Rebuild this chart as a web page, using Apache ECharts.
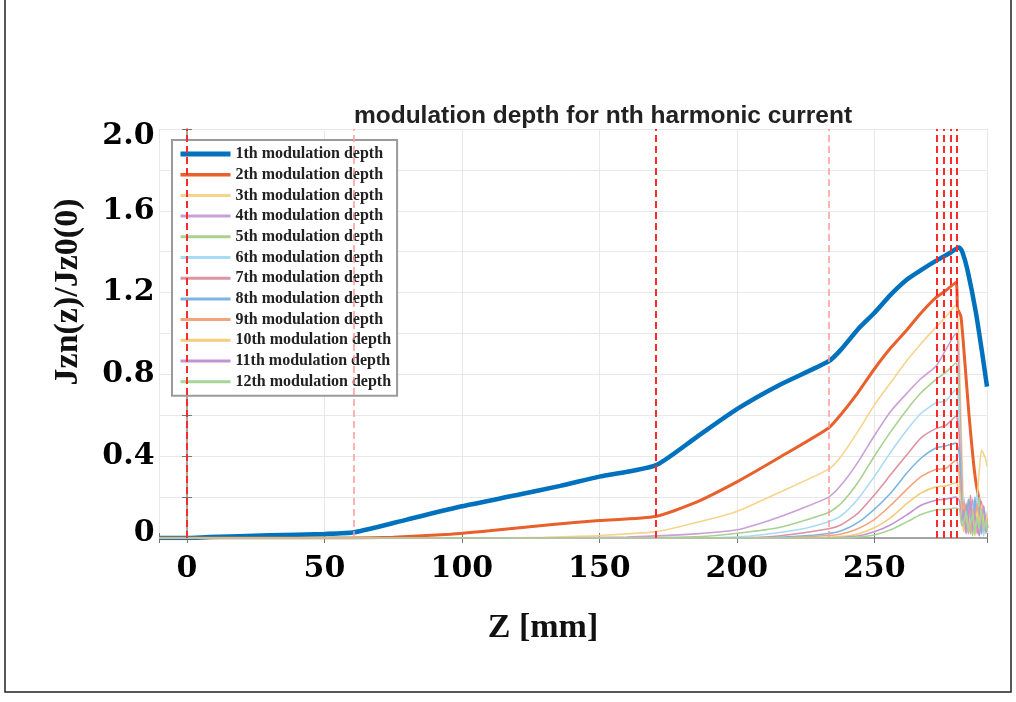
<!DOCTYPE html>
<html>
<head>
<meta charset="utf-8">
<script src="https://cdn.jsdelivr.net/npm/echarts@6/dist/echarts.min.js"></script>
<style>
  html, body { margin: 0; padding: 0; background: #fff; }
  #chart { width: 1016px; height: 702px; }
</style>
</head>
<body>
<div id="chart"></div>
<script>
// legend names
var names = ['1th modulation depth', '2th modulation depth', '3th modulation depth', '4th modulation depth',
  '5th modulation depth', '6th modulation depth', '7th modulation depth', '8th modulation depth',
  '9th modulation depth', '10th modulation depth', '11th modulation depth', '12th modulation depth']

// z positions of the red dashed markers [mm]
var dashStrong = [0, 170.4, 272.8, 275.3, 277.9, 280]
var dashFaint = [60.8, 233.4]

// harmonic 1 and 2 (whole curves)
var z1 = [-10, 0, 8, 30, 50, 60.8, 80, 100, 120, 135.8, 150, 170.4, 185, 200, 215, 233.4, 237.8, 244, 250, 256, 262, 267, 272.4, 277, 280.9, 282, 283.9, 287, 289.4, 291]
var d1 = [0, 0, 0.005, 0.013, 0.02, 0.028, 0.09, 0.155, 0.21, 0.255, 0.3, 0.355, 0.49, 0.63, 0.745, 0.864, 0.92, 1.02, 1.10, 1.19, 1.265, 1.31, 1.355, 1.39, 1.42, 1.40, 1.31, 1.10, 0.89, 0.74]
var z2 = [-10, 60, 75, 95.8, 110, 132, 150, 170.4, 184.4, 200.2, 215, 233.4, 237.8, 244, 249.9, 256, 262, 267, 272.4, 276, 279.7, 280.3, 281.5, 283, 284.5, 286, 287, 288.8, 289.6, 290.3, 291]
var d2 = [0, 0, 0.004, 0.018, 0.035, 0.065, 0.085, 0.105, 0.17, 0.276, 0.39, 0.538, 0.603, 0.71, 0.824, 0.93, 1.02, 1.10, 1.175, 1.21, 1.25, 1.12, 1.085, 0.85, 0.595, 0.38, 0.27, 0.137, 0.08, 0.12, 0.05]

// harmonics 3..12: rising part, then the noisy tail on zTail
var zTail = [282.6, 283.4, 284.2, 285, 285.8, 286.6, 287.4, 288.2, 289, 289.8, 290.6, 291]

var z3 = [-10, 110, 130, 150, 170.4, 185, 200, 215, 233.4, 238, 244, 250, 256, 262, 267, 272.4, 276, 279.7, 280.6, 281.5, 282.2]
var d3 = [0, 0, 0.004, 0.012, 0.031, 0.075, 0.13, 0.22, 0.337, 0.40, 0.52, 0.65, 0.76, 0.87, 0.95, 1.03, 1.08, 1.14, 1.02, 0.6, 0.25]
var t3 = [0.1, 0.14, 0.05, 0.16, 0.07, 0.12, 0.2, 0.33, 0.43, 0.41, 0.38, 0.35]

var z4 = [-10, 130, 160, 185, 200, 215, 233.4, 238, 244, 250, 256, 262, 267, 272.4, 276, 279.7, 280.5, 281.3, 282]
var d4 = [0, 0, 0.005, 0.02, 0.04, 0.1, 0.2, 0.26, 0.37, 0.5, 0.62, 0.71, 0.78, 0.84, 0.92, 1.0, 0.93, 0.55, 0.22]
var t4 = [0.06, 0.15, 0.02, 0.1, 0.19, 0.05, 0.12, 0.03, 0.09, 0.16, 0.06, 0.1]

var z5 = [-10, 160, 190, 215, 233.4, 238, 244, 250, 256, 262, 267, 272.4, 276, 279.7, 280.5, 281.3, 282]
var d5 = [0, 0, 0.01, 0.05, 0.125, 0.17, 0.27, 0.4, 0.52, 0.63, 0.71, 0.775, 0.81, 0.856, 0.8, 0.42, 0.15]
var t5 = [0.12, 0.03, 0.18, 0.08, 0.01, 0.14, 0.07, 0.2, 0.04, 0.11, 0.02, 0.08]

var z6 = [-10, 180, 205, 222, 233.4, 238, 244, 250, 256, 262, 267, 272.4, 276, 279.7, 280.6, 281.4, 282.1]
var d6 = [0, 0, 0.01, 0.04, 0.08, 0.11, 0.19, 0.3, 0.42, 0.53, 0.61, 0.66, 0.67, 0.725, 0.68, 0.33, 0.12]
var t6 = [0.2, 0.08, 0.13, 0.02, 0.16, 0.09, 0.22, 0.05, 0.1, 0.01, 0.13, 0.05]

var z7 = [-10, 195, 215, 233.4, 238, 244, 250, 256, 262, 267, 272.4, 276, 279.7, 280.8, 281.7]
var d7 = [0, 0, 0.01, 0.045, 0.065, 0.12, 0.21, 0.31, 0.41, 0.49, 0.535, 0.55, 0.595, 0.52, 0.2]
var t7 = [0.05, 0.17, 0.1, 0.21, 0.06, 0.15, 0.02, 0.12, 0.18, 0.07, 0.04, 0.1]

var z8 = [-10, 205, 222, 233.4, 238, 244, 250, 256, 262, 267, 272.4, 276, 279.7, 281, 281.8]
var d8 = [0, 0, 0.008, 0.022, 0.035, 0.075, 0.14, 0.22, 0.32, 0.39, 0.44, 0.45, 0.464, 0.4, 0.15]
var t8 = [0.1, 0.04, 0.19, 0.12, 0.03, 0.2, 0.09, 0.15, 0.02, 0.13, 0.08, 0.03]

var z9 = [-10, 215, 233.4, 238, 244, 250, 256, 262, 267, 272.4, 276, 279.7, 281, 281.8]
var d9 = [0, 0, 0.012, 0.02, 0.045, 0.09, 0.16, 0.24, 0.3, 0.335, 0.34, 0.38, 0.3, 0.12]
var t9 = [0.18, 0.07, 0.11, 0.02, 0.14, 0.05, 0.17, 0.08, 0.12, 0.04, 0.1, 0.07]

var z10 = [-10, 225, 238, 244, 250, 256, 262, 267, 272.4, 276, 279.7, 281, 281.8]
var d10 = [0, 0, 0.008, 0.02, 0.05, 0.1, 0.17, 0.22, 0.25, 0.255, 0.27, 0.23, 0.1]
var t10 = [0.03, 0.12, 0.06, 0.15, 0.1, 0.01, 0.13, 0.04, 0.16, 0.09, 0.05, 0.12]

var z11 = [-10, 232, 244, 250, 256, 262, 267, 272.4, 276, 279.7, 281, 281.8]
var d11 = [0, 0, 0.01, 0.03, 0.065, 0.115, 0.16, 0.185, 0.19, 0.2, 0.18, 0.08]
var t11 = [0.14, 0.02, 0.09, 0.17, 0.04, 0.11, 0.06, 0.01, 0.1, 0.15, 0.03, 0.06]

var z12 = [-10, 238, 244, 250, 256, 262, 267, 272.4, 276, 279.7, 281, 281.8]
var d12 = [0, 0, 0.005, 0.015, 0.04, 0.08, 0.115, 0.137, 0.14, 0.147, 0.14, 0.06]
var t12 = [0.08, 0.13, 0.03, 0.07, 0.12, 0.02, 0.1, 0.05, 0.14, 0.03, 0.09, 0.04]

var colors = ['#0072BD', '#E8602C', '#F7D48C', '#C9A0D6', '#A9D190', '#A8DCF4', '#DD93A2',
  '#7DB5E2', '#F3A47F', '#F5CD7C', '#C493D4', '#A6D597']
var widths = [4.5, 3, 1.6, 1.6, 1.6, 1.6, 1.6, 1.6, 1.6, 1.6, 1.6, 1.6]
var legendWidths = [5, 3.5, 3, 3, 3, 3, 3, 3, 3, 3, 3, 3]

var serif = "'Liberation Serif', 'Times New Roman', serif"
var tickFont = "'DejaVu Serif', serif"

var zs = [z1, z2, z3.concat(zTail), z4.concat(zTail), z5.concat(zTail), z6.concat(zTail), z7.concat(zTail),
  z8.concat(zTail), z9.concat(zTail), z10.concat(zTail), z11.concat(zTail), z12.concat(zTail)]
var ds = [d1, d2, d3.concat(t3), d4.concat(t4), d5.concat(t5), d6.concat(t6), d7.concat(t7),
  d8.concat(t8), d9.concat(t9), d10.concat(t10), d11.concat(t11), d12.concat(t12)]

var series = []
names.forEach(function (n, i) {
  var pts = zs[i].map(function (z, j) { return [z, ds[i][j]] })
  series.push({
    name: n,
    type: 'line',
    data: pts,
    symbol: 'none',
    smooth: 0.2,
    lineStyle: { width: widths[i], color: colors[i] },
    itemStyle: { color: colors[i] }
  })
})

// red dashed markers
var marks = []
dashStrong.forEach(function (v) {
  marks.push({ xAxis: v, lineStyle: { color: '#ff2a2a', width: 2, type: [7, 4] } })
})
dashFaint.forEach(function (v) {
  marks.push({ xAxis: v, lineStyle: { color: '#ff9a9a', width: 1.5, type: [7, 4] } })
})
series.push({
  name: 'markers',
  type: 'line',
  data: [],
  markLine: { silent: true, symbol: ['none', 'none'], label: { show: false }, data: marks }
})

var tickText = { fontFamily: tickFont, fontSize: 30, fontWeight: 'bold', color: '#000' }

var chart = echarts.init(document.getElementById('chart'))
chart.setOption({
  animation: false,
  backgroundColor: '#fff',
  title: {
    text: 'modulation depth for nth harmonic current',
    left: 598,
    top: 99,
    textAlign: 'center',
    textStyle: { fontFamily: "'Liberation Sans', Arial, sans-serif", fontSize: 24.5, fontWeight: 'bold', color: '#222' }
  },
  grid: { left: 159.5, right: 29, top: 129, bottom: 164 },
  legend: {
    data: names.map(function (n, i) { return { name: n, lineStyle: { width: legendWidths[i] } } }),
    orient: 'vertical',
    left: 172,
    top: 140,
    padding: [6, 6, 6, 6],
    itemWidth: 50,
    itemHeight: 14,
    itemGap: 4.7,
    backgroundColor: '#fff',
    borderColor: '#9a9a9a',
    borderWidth: 2,
    itemStyle: { opacity: 0 },
    textStyle: { fontFamily: serif, fontSize: 16, fontWeight: 'bold', color: '#222' }
  },
  xAxis: [{
    type: 'value',
    min: -10,
    max: 291,
    position: 'bottom',
    axisLine: { show: true, lineStyle: { color: '#a0a0a0', width: 1.5 } },
    axisTick: { show: true, inside: true, length: 5, lineStyle: { color: '#777' } },
    splitLine: { show: true, lineStyle: { color: '#e8e8e8', width: 1 } },
    axisLabel: Object.assign({
      margin: 16,
      formatter: function (v) { return (Math.abs(v % 50) < 1e-6) ? String(Math.round(v)) : '' }
    }, tickText)
  }, {
    type: 'value',
    min: -10,
    max: 291,
    position: 'top',
    axisLine: { show: true, lineStyle: { color: '#a0a0a0', width: 1.5 } },
    axisTick: { show: true, inside: true, length: 5, lineStyle: { color: '#777' } },
    splitLine: { show: false },
    axisLabel: { show: false }
  }],
  yAxis: [{
    type: 'value',
    min: 0,
    max: 2,
    interval: 0.2,
    position: 'left',
    axisLine: { show: true, lineStyle: { color: '#a0a0a0', width: 1.5 } },
    axisTick: { show: true, inside: true, length: 5, lineStyle: { color: '#777' } },
    splitLine: { show: true, lineStyle: { color: '#e8e8e8', width: 1 } },
    axisLabel: Object.assign({
      margin: 5,
      formatter: function (v) {
        var k = Math.round(v * 10)
        if (k % 4 !== 0) return ''
        if (k === 0) return '{lo|0}'
        if (k === 20) return '{hi|2.0}'
        return (k / 10).toFixed(1)
      },
      rich: {
        lo: Object.assign({ padding: [0, 0, 10, 0] }, tickText),
        hi: Object.assign({ padding: [14, 0, 0, 0] }, tickText)
      }
    }, tickText)
  }, {
    type: 'value',
    min: 0,
    max: 2,
    interval: 0.2,
    position: 'right',
    axisLine: { show: true, lineStyle: { color: '#a0a0a0', width: 1.5 } },
    axisTick: { show: true, inside: true, length: 5, lineStyle: { color: '#777' } },
    splitLine: { show: false },
    axisLabel: { show: false }
  }],
  graphic: [{
    type: 'text',
    x: 68,
    y: 292,
    rotation: Math.PI / 2,
    style: { text: 'Jzn(z)/Jz0(0)', fill: '#111', font: 'bold 34px ' + serif, textAlign: 'center', textVerticalAlign: 'middle' }
  }, {
    type: 'text',
    x: 543,
    y: 628,
    style: { text: 'Z [mm]', fill: '#111', font: 'bold 34px ' + serif, textAlign: 'center', textVerticalAlign: 'middle' }
  }, {
    type: 'rect',
    shape: { x: 5, y: -2, width: 1006, height: 694 },
    style: { fill: 'none', stroke: '#222', lineWidth: 1.5 },
    silent: true
  }],
  series: series
})
</script>
</body>
</html>
